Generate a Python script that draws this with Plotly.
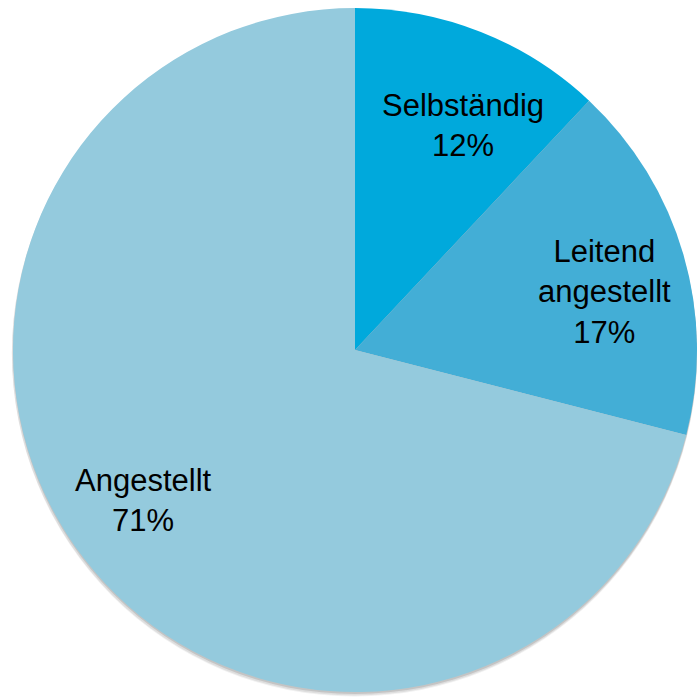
import plotly.graph_objects as go

# Employment status shares
categories = ["Selbständig", "Leitend angestellt", "Angestellt"]
display_labels = ["Selbständig", "Leitend<br>angestellt", "Angestellt"]
shares = [12, 17, 71]
slice_colors = ["#00A9DC", "#43AED6", "#94CADD"]

# label anchor points in page pixels (x, y)
label_points = [(462, 126), (604, 292), (140, 500)]

W, H = 697, 698
ML, MR, MT, MB = 4, 0, 0, 0
plot_w = W - ML - MR
plot_h = H - MT - MB

CX, CY, R = 355, 350, 342  # pie centre and radius in page pixels


def domain_for(cx, cy, r):
    # pie domain (plot fractions) for a circle centred at cx, cy with radius r
    x0 = max(0.0, (cx - r - ML) / plot_w)
    x1 = min(1.0, (cx + r - ML) / plot_w)
    y0 = max(0.0, 1 - (cy + r - MT) / plot_h)
    y1 = min(1.0, 1 - (cy - r - MT) / plot_h)
    return dict(x=[x0, x1], y=[y0, y1])


fig = go.Figure()

# soft drop shadow under the pie
for dy, grow, alpha in [(4, 1, 0.07), (3, 1, 0.10), (2, 0, 0.16)]:
    fig.add_trace(go.Pie(
        values=[sum(shares)],
        marker=dict(colors=[f"rgba(60,60,60,{alpha})"], line=dict(width=0)),
        textinfo="none", hoverinfo="skip", showlegend=False, sort=False,
        domain=domain_for(CX, CY + dy, R + grow),
    ))

fig.add_trace(go.Pie(
    labels=categories,
    values=shares,
    textinfo="none",
    sort=False,
    direction="clockwise",
    rotation=0,
    marker=dict(colors=slice_colors, line=dict(width=0)),
    showlegend=False,
    domain=domain_for(CX, CY, R),
))

for text, value, (px, py) in zip(display_labels, shares, label_points):
    fig.add_annotation(
        text=f"{text}<br>{value}%",
        x=px / W, y=1 - py / H, xref="paper", yref="paper",
        xanchor="center", yanchor="middle",
        showarrow=False, align="center",
        font=dict(family="Liberation Sans, Arial, sans-serif", size=31, color="black"),
    )

fig.update_layout(
    width=W, height=H,
    margin=dict(l=ML, r=MR, t=MT, b=MB),
    paper_bgcolor="white",
    plot_bgcolor="white",
)

fig.write_html("out.html")
